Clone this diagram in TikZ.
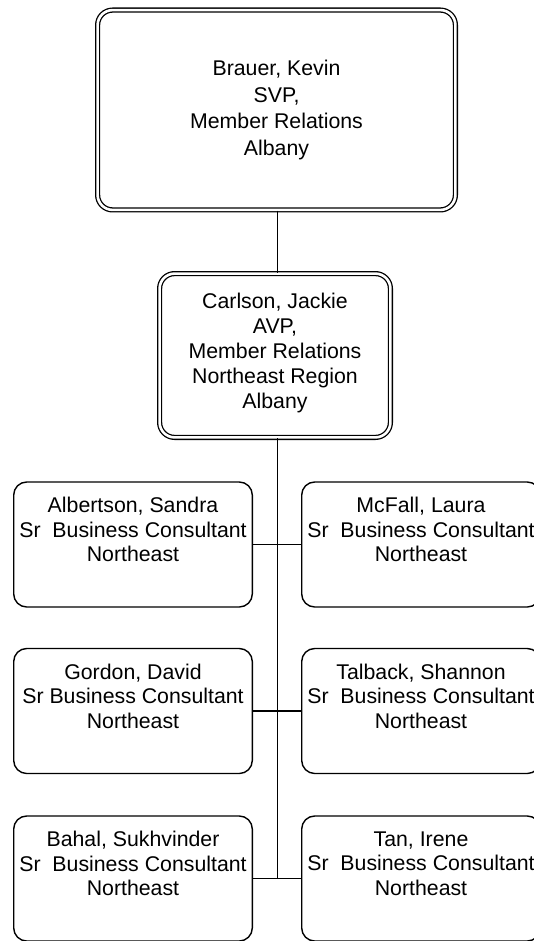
\documentclass[tikz,border=0pt]{standalone}
\usepackage{fontspec}
\setmainfont{Liberation Sans}
\begin{document}
\begin{tikzpicture}[x=1pt,y=-1pt,
  txt/.style={align=center,inner sep=0pt,font=\fontsize{21.3}{24.5}\selectfont},
  bigbox/.style={draw,double,line width=1.3pt,double distance=2.6pt,rounded corners=15pt,inner sep=0pt},
  personbox/.style={draw,line width=1.4pt,rounded corners=13pt,inner sep=0pt,minimum width=238.6pt,minimum height=125pt},
  link/.style={line width=1.4pt}]
\useasboundingbox (0,0) rectangle (534,941);
\fill[white] (0,0) rectangle (534,941);
% top
\node[bigbox,minimum width=357.8pt,minimum height=199.8pt] (brauer) at (276.5,110) {};
\node[txt,font=\fontsize{21.3}{26.5}\selectfont] (brauerT) at (brauer.center) {Brauer, Kevin\\SVP,\\Member Relations\\Albany};
% second
\node[bigbox,minimum width=230.8pt,minimum height=163.8pt] (carlson) at (275,355.5) {};
\node[txt,font=\fontsize{21.3}{25}\selectfont] (carlsonT) at (275,353) {Carlson, Jackie\\AVP,\\Member Relations\\Northeast Region\\Albany};
% rows
\node[personbox] (albertson) at (133,544.5) {};
\node[personbox] (mcfall) at (421,544.5) {};
\node[personbox] (gordon) at (133,711) {};
\node[personbox] (talback) at (421,711) {};
\node[personbox] (bahal) at (133,878.5) {};
\node[personbox] (tan) at (421,878.5) {};
\node[txt,anchor=north] (albertsonT) at ([yshift=-16pt]albertson.north) {Albertson, Sandra\\Sr\ \ Business Consultant\\Northeast};
\node[txt,anchor=north] (mcfallT) at ([yshift=-16pt]mcfall.north) {McFall, Laura\\Sr\ \ Business Consultant\\Northeast};
\node[txt,anchor=north] (gordonT) at ([yshift=-16pt]gordon.north) {Gordon, David\\Sr Business Consultant\\Northeast};
\node[txt,anchor=north] (talbackT) at ([yshift=-16pt]talback.north) {Talback, Shannon\\Sr\ \ Business Consultant\\Northeast};
\node[txt,anchor=north] (bahalT) at ([yshift=-16pt]bahal.north) {Bahal, Sukhvinder\\Sr\ \ Business Consultant\\Northeast};
\node[txt,anchor=north] (tanT) at ([yshift=-16pt]tan.north) {Tan, Irene\\Sr\ \ Business Consultant\\Northeast};
% connectors
\coordinate (spineTop) at (277.5,0);
\draw[link] (brauer.south -| spineTop) -- (carlson.north -| spineTop);
\coordinate (spineEnd) at (bahal.east -| spineTop);
\draw[link] (carlson.south -| spineTop) -- (spineEnd);
\draw[link] (albertson.east) -- (mcfall.west);
\draw[link] (gordon.east) -- (talback.west);
\draw[link] (bahal.east) -- (tan.west);
\end{tikzpicture}
\end{document}
